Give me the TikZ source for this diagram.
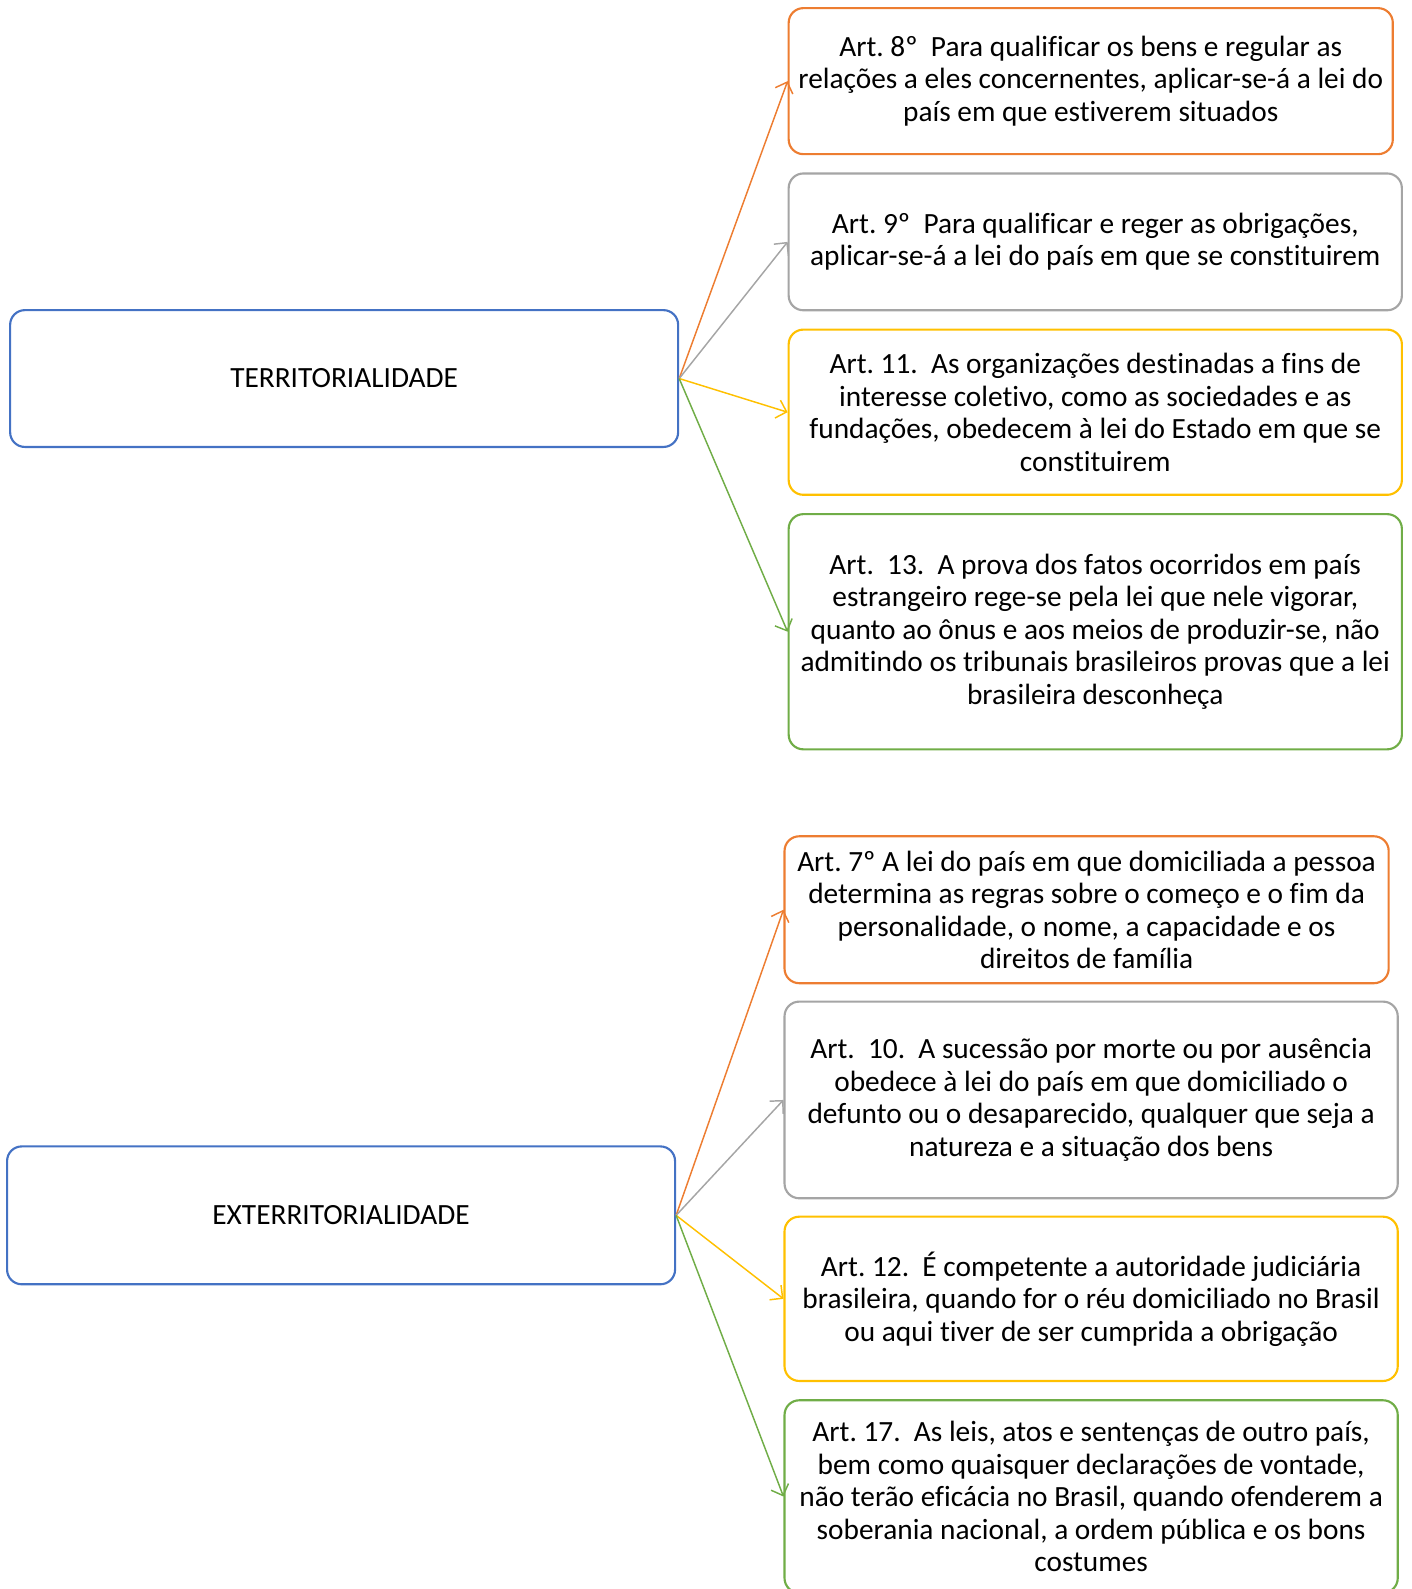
\documentclass[tikz,border=0pt]{standalone}
\usepackage{fontspec}
\setmainfont{Carlito}[Ligatures=NoCommon]
\usepackage{xcolor}
\usepackage{tikz}
\usetikzlibrary{arrows.meta,positioning}
\frenchspacing

\definecolor{cblue}{HTML}{4472C4}
\definecolor{corange}{HTML}{ED7D31}
\definecolor{cgray}{HTML}{A5A5A5}
\definecolor{cyellow}{HTML}{FFC000}
\definecolor{cgreen}{HTML}{70AD47}

\begin{document}
\begin{tikzpicture}[>={Straight Barb[length=7pt,width=14pt]}, every node/.style={font=\fontsize{22}{24.4}\selectfont},
  box/.style={draw, line width=1.6pt, rounded corners=11pt, align=center, inner sep=0pt},
  artbox/.style={box, anchor=north west, minimum width=459.9pt},
  link/.style={->, line width=1.1pt}]
  \useasboundingbox (0,0) rectangle (1058.25pt,-1191.75pt);

  % territorialidade
  \node[box, draw=cblue, minimum width=501pt, minimum height=102.6pt] (Terr) at (258.1pt,-283.9pt) {TERRITORIALIDADE};
  \node[artbox, draw=corange, minimum width=453.1pt, minimum height=109.5pt] (Art8) at (590.7pt,-5.3pt)
    {Art. 8º~~Para qualificar os bens e regular as\\relações a eles concernentes, aplicar-se-á a lei do\\país em que estiverem situados};
  \node[artbox, draw=cgray, minimum height=102.6pt, below=12.9pt of Art8.south west, anchor=north west] (Art9)
    {Art. 9º~~Para qualificar e reger as obrigações,\\aplicar-se-á a lei do país em que se constituirem};
  \node[artbox, draw=cyellow, minimum height=123.9pt, below=12.9pt of Art9.south west, anchor=north west] (Art11)
    {Art. 11.~~As organizações destinadas a fins de\\interesse coletivo, como as sociedades e as\\fundações, obedecem à lei do Estado em que se\\constituirem};
  \node[artbox, draw=cgreen, minimum height=176.4pt, below=12.9pt of Art11.south west, anchor=north west] (Art13)
    {Art.~~13.~~A prova dos fatos ocorridos em país\\estrangeiro rege-se pela lei que nele vigorar,\\quanto ao ônus e aos meios de produzir-se, não\\admitindo os tribunais brasileiros provas que a lei\\brasileira desconheça};

  % exterritorialidade
  \node[box, draw=cblue, minimum width=501pt, minimum height=103.4pt] (Ext) at (255.8pt,-911.5pt) {EXTERRITORIALIDADE};
  \node[artbox, draw=corange, minimum width=453.1pt, minimum height=110.2pt] (Art7) at (587.6pt,-626.4pt)
    {Art. 7º A lei do país em que domiciliada a pessoa\\determina as regras sobre o começo e o fim da\\personalidade, o nome, a capacidade e os\\direitos de família};
  \node[artbox, draw=cgray, minimum height=147.5pt, below=12.2pt of Art7.south west, anchor=north west] (Art10)
    {Art.~~10.~~A sucessão por morte ou por ausência\\obedece à lei do país em que domiciliado o\\defunto ou o desaparecido, qualquer que seja a\\natureza e a situação dos bens};
  \node[artbox, draw=cyellow, minimum height=123.2pt, below=12.2pt of Art10.south west, anchor=north west] (Art12)
    {Art. 12.~~É competente a autoridade judiciária\\brasileira, quando for o réu domiciliado no Brasil\\ou aqui tiver de ser cumprida a obrigação};
  \node[artbox, draw=cgreen, minimum height=144.4pt, below=12.9pt of Art12.south west, anchor=north west] (Art17)
    {Art. 17.~~As leis, atos e sentenças de outro país,\\bem como quaisquer declarações de vontade,\\não terão eficácia no Brasil, quando ofenderem a\\soberania nacional, a ordem pública e os bons\\costumes};

  \draw[link, corange] (Terr.east) -- (Art8.west);
  \draw[link, cgray] (Terr.east) -- (Art9.west);
  \draw[link, cyellow] (Terr.east) -- (Art11.west);
  \draw[link, cgreen] (Terr.east) -- (Art13.west);
  \draw[link, corange] (Ext.east) -- (Art7.west);
  \draw[link, cgray] (Ext.east) -- (Art10.west);
  \draw[link, cyellow] (Ext.east) -- (Art12.west);
  \draw[link, cgreen] (Ext.east) -- (Art17.west);
\end{tikzpicture}
\end{document}
